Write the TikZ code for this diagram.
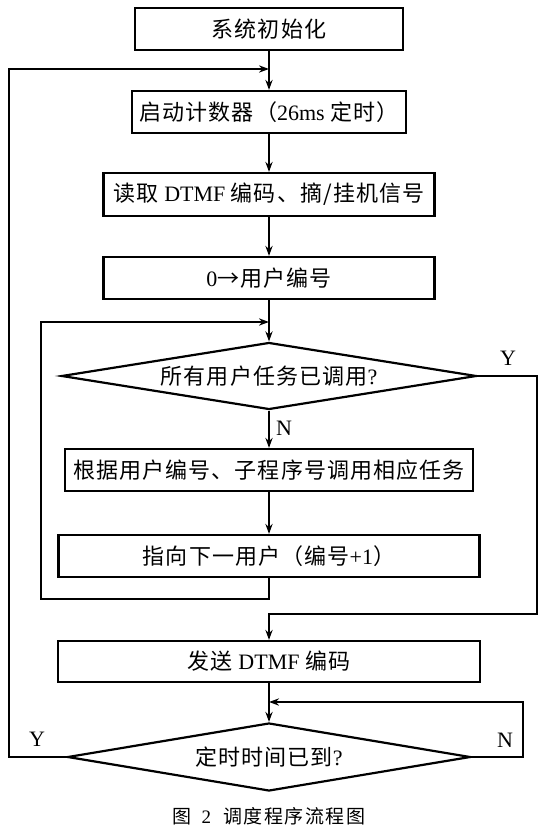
\documentclass[tikz,border=0pt]{standalone}
\usepackage{fontspec}
\setmainfont{Liberation Serif}
\newfontfamily\cjk[LetterSpace=5]{Noto Sans CJK SC}
\newfontfamily\cjkcap[LetterSpace=8]{Noto Sans CJK SC}
\usetikzlibrary{shapes.geometric,arrows.meta}
\begin{document}
\begin{tikzpicture}[
    x=0.5pt, y=-0.5pt,
    >={Stealth[length=5pt,width=3.6pt]},
    proc/.style={
        draw,
        line width=1.1pt,
        minimum height=21pt,
        inner sep=0pt,
        font=\fontsize{11}{13}\selectfont
    },
    cond/.style={
        draw,
        diamond,
        line width=1.1pt,
        inner sep=0pt,
        shape aspect=6,
        font=\fontsize{11}{13}\selectfont
    },
    lbl/.style={
        font=\fontsize{11}{13}\selectfont
    },
    figcap/.style={
        font=\fontsize{9.5}{12}\selectfont
    },
    flow/.style={
        ->,
        line width=1pt
    }
]
\useasboundingbox (0,0) rectangle (549,838);

%--- 主流程框 ---
\node[proc, minimum width=134pt] (init) at (269,29) {{\cjk 系统初始化}};
\node[proc, minimum width=137pt] (timer) at (269,112)
    {{\cjk 启动计数器（}26ms {\cjk 定时）}};
\node[proc, minimum width=165.5pt, minimum height=21.5pt] (readin) at (269,194.5)
    {{\cjk 读取} DTMF {\cjk 编码、摘/挂机信号}};
\node[proc, minimum width=165.5pt] (reset) at (269,278) {0{\cjk →用户编号}};

%--- 用户任务循环 ---
\node[cond, minimum width=207.5pt, minimum height=33.5pt] (allcalled) at (269,376)
    {{\cjk 所有用户任务已调用}?};
\node[proc, minimum width=204pt] (call) at (269,470)
    {{\cjk 根据用户编号、子程序号调用相应任务}};
\node[proc, minimum width=210.5pt] (next) at (269,556)
    {{\cjk 指向下一用户（编号}+1{\cjk ）}};

%--- 发送与定时判断 ---
\node[proc, minimum width=211pt, minimum height=20.5pt] (send) at (269,661.5)
    {{\cjk 发送} DTMF {\cjk 编码}};
\node[cond, minimum width=201.5pt, minimum height=34pt] (timeup) at (269,757)
    {{\cjk 定时时间已到}?};

%--- 转折点 ---
\coordinate (joinA) at (269,69);
\coordinate (outL)  at (9,69);
\coordinate (joinB) at (269,322);
\coordinate (loopB) at (41,599);
\coordinate (turnY) at (537,614);
\coordinate (turnN) at (523,702);
\coordinate (joinN) at (269,702);

%--- 顺序连线 ---
\draw[flow] (init) -- (timer);
\draw[flow] (timer) -- (readin);
\draw[flow] (readin) -- (reset);
\draw[flow] (reset) -- (allcalled);
\draw[flow] (allcalled) -- (call);
\draw[flow] (call) -- (next);
\draw[flow] (send) -- (timeup);

%--- 回环连线 ---
\draw[flow] (next.south) |- (loopB) |- (joinB);
\draw[flow] (allcalled.east) -| (turnY) -| (send.north);
\draw[flow] (timeup.east) -| (turnN) -- (joinN);
\draw[flow] (timeup.west) -| (outL) -- (joinA);

%--- 标注 ---
\node[lbl] (yesA) at (508,358) {Y};
\node[lbl] (noA)  at (284,428) {N};
\node[lbl] (yesB) at (37,739)  {Y};
\node[lbl] (noB)  at (505,740) {N};
\node[figcap] (cap) at (269,816)
    {{\cjkcap 图}\hspace{5pt}2\hspace{6pt}{\cjkcap 调度程序流程图}};

\end{tikzpicture}
\end{document}
